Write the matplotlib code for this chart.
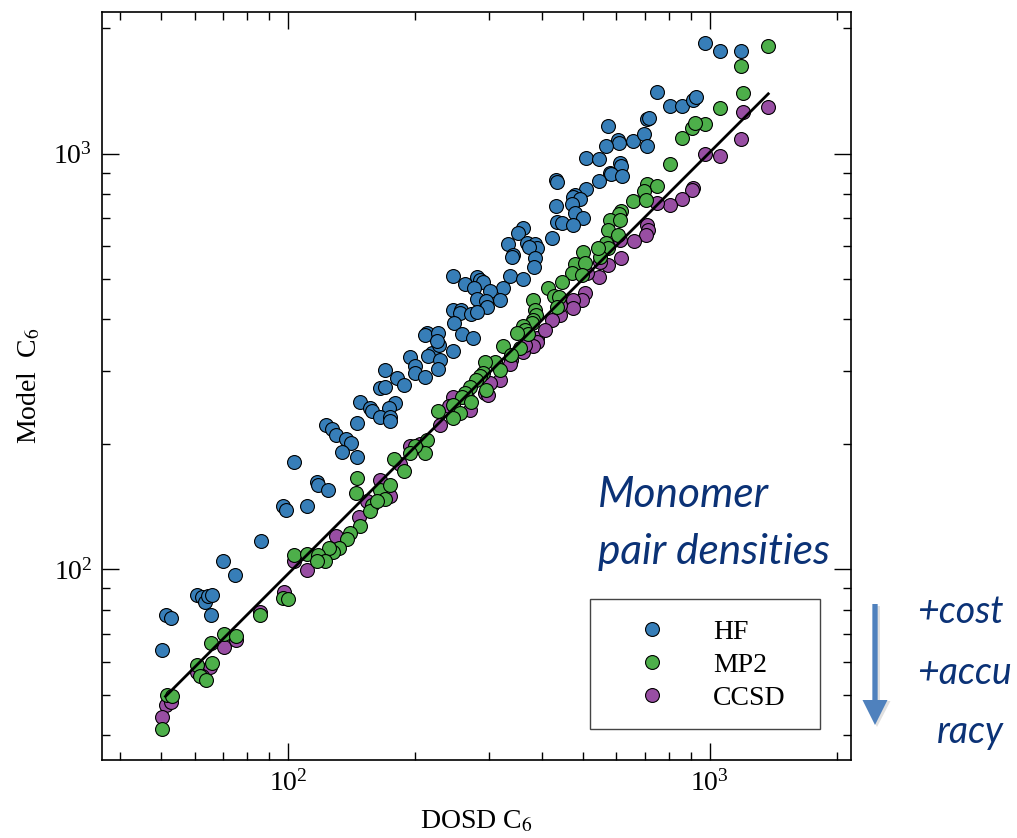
import matplotlib
matplotlib.use("Agg")
import matplotlib.pyplot as plt
from matplotlib.ticker import NullFormatter, LogLocator
from matplotlib.patches import Rectangle, FancyArrow
from matplotlib.lines import Line2D

plt.rcParams['font.family'] = ['Liberation Serif', 'DejaVu Serif']
plt.rcParams['mathtext.fontset'] = 'stix'

# ---------------- data (DOSD C6 vs model C6) ----------------
hf_x = [973, 1056, 1183, 748, 804, 858, 910, 925, 708, 717,
        574, 606, 610, 567, 658, 699, 708, 508, 545, 612, 615, 580, 583, 618, 546,
        431, 435, 508, 479, 474, 492, 432, 470, 479, 499,
        361, 351, 433, 445, 474, 422, 333, 368, 385, 388, 373, 342, 339, 385, 383,
        246, 336, 360, 281, 285, 263, 290, 276, 324, 301, 281, 295, 296, 318,
        246, 257, 255, 272, 280,
        247, 213, 211, 227, 259, 274, 219, 215, 228, 246, 229, 227, 195, 200, 170,
        200, 211, 181, 188, 165, 170, 179, 148, 156, 158, 173, 165, 174, 226,
        123, 127, 130, 137, 141, 134, 146, 146, 174, 103, 117, 118, 124, 97, 99, 111,
        86, 70, 75, 60.7, 62.4, 63.5, 64.6, 65.9, 51.2, 52.8, 65.6, 50.2]
hf_y = [1843, 1766, 1762, 1410, 1303, 1303, 1347, 1367, 1210, 1220,
        1166, 1079, 1063, 1040, 1073, 1116, 1044, 975, 970, 949, 931, 900, 894, 884, 860,
        865, 854, 822, 796, 786, 777, 749, 757, 721, 699,
        662, 644, 686, 680, 674, 626, 607, 609, 607, 593, 597, 571, 565, 560, 535,
        508, 508, 499, 505, 497, 486, 492, 475, 475, 466, 447, 442, 427, 445,
        420, 421, 414, 412, 417,
        391, 371, 366, 370, 369, 360, 331, 326, 347, 336, 318, 303, 325, 309, 301,
        296, 290, 288, 278, 273, 275, 251, 253, 244, 240, 244, 232, 232, 355,
        222, 217, 211, 206, 201, 192, 186, 225, 227, 181, 162, 160, 155, 142, 139, 142,
        117, 105, 97, 86.9, 86, 83.7, 86.2, 87, 77.8, 76.4, 77.8, 64.1]

mp2_x = [1375, 1184, 1200, 1056, 975, 857, 905, 921, 804, 708, 748, 699, 658, 705,
         615, 610, 580, 612, 574, 606, 568, 574, 549, 543, 499, 479, 506, 470, 497,
         445, 414, 426, 439, 381, 385, 387, 433, 381, 378, 361, 364, 371, 348, 324,
         355, 338, 309, 293, 318, 290, 285, 295, 279, 270, 263, 258, 272, 246, 227,
         256, 246, 213, 211, 200, 195, 188, 178, 146, 145, 165, 170, 158, 156, 148,
         174, 140, 162, 138, 132, 128, 125, 103, 111, 118, 122, 117, 97.5, 100, 85.8,
         70.3, 75.2, 65.6, 65.9, 60.7, 61.8, 63.9, 51.7, 53.1, 50.2]
mp2_y = [1816, 1626, 1398, 1287, 1179, 1089, 1151, 1183, 943, 846, 837, 814, 770, 774,
         729, 715, 693, 693, 655, 638, 611, 593, 565, 593, 581, 543, 545, 517, 511,
         492, 475, 455, 452, 445, 421, 409, 427, 398, 391, 385, 377, 369, 370, 344,
         341, 328, 316, 316, 302, 296, 291, 270, 286, 275, 265, 260, 253, 249, 240,
         238, 231, 205, 190, 198, 190, 172, 184, 166, 153, 155, 148, 143, 138, 127,
         160, 122, 146, 118, 112.5, 110, 112.5, 108, 109, 108.5, 104.5, 104.5, 85.3, 84.8, 77.8,
         69.9, 69.2, 66.5, 59.7, 59, 55.3, 54.3, 49.8, 49.7, 41.3]

ccsd_x = [1375, 1200, 1184, 975, 1056, 912, 905, 857, 804, 748, 708, 714, 705, 660,
          615, 574, 546, 506, 497, 474, 474, 441, 422, 388, 388, 381, 361, 338, 318,
          293, 246, 240, 195, 147, 154, 130, 103, 111, 97.7, 85.8, 70.6, 75.2, 65.4,
          60.7, 62.4, 51.2, 52.8, 50.2,
          364, 301, 265, 297, 174, 126, 511, 229, 205, 165, 184, 336, 407, 441, 549, 612, 270]
ccsd_y = [1294, 1259, 1083, 997, 984, 826, 819, 778, 753, 760, 674, 655, 638, 615,
          560, 540, 506, 462, 445, 445, 425, 409, 398, 360, 353, 344, 334, 319, 286,
          265, 260, 246.5, 198, 134, 146, 120, 105, 99.7, 88.4, 79, 65, 67.7, 58.4,
          56.8, 55.3, 47.3, 47.9, 44.2,
          347, 281, 260, 263, 150, 110, 515, 223, 200, 164, 179, 311, 377, 433, 549, 620, 242]

fit_x = [51.2, 1375]
fit_y = [49.5, 1392]

series_labels = ['HF', 'MP2', 'CCSD']
colors = ['#377eb8', '#4daf4a', '#984ea3']

# ---------------- figure ----------------
W, H = 1017, 838
fig = plt.figure(figsize=(W / 100, H / 100), dpi=100)
ax = fig.add_axes([102 / W, 1 - 760 / H, (851 - 102) / W, (760 - 12) / H])

ms = 100
ax.scatter(ccsd_x, ccsd_y, s=ms, c=colors[2], edgecolors='k', linewidths=0.8, zorder=2)
ax.scatter(mp2_x, mp2_y, s=ms, c=colors[1], edgecolors='k', linewidths=0.8, zorder=3)
ax.scatter(hf_x, hf_y, s=ms, c=colors[0], edgecolors='k', linewidths=0.8, zorder=4)
ax.plot(fit_x, fit_y, color='k', lw=2.0, zorder=5)

ax.set_xscale('log')
ax.set_yscale('log')
ax.set_xlim(36.2, 2160)
ax.set_ylim(34.8, 2190)

for a in (ax.xaxis, ax.yaxis):
    a.set_major_locator(LogLocator(base=10))
    a.set_minor_locator(LogLocator(base=10, subs=range(2, 10)))
    a.set_minor_formatter(NullFormatter())
ax.tick_params(which='both', direction='in', top=True, right=True, colors='k')
ax.tick_params(which='major', length=12, width=1.0, labelsize=20, pad=7)
ax.tick_params(which='minor', length=5.5, width=1.0)
for sp in ax.spines.values():
    sp.set_linewidth(1.2)

ax.set_xlabel('DOSD C$_6$', fontsize=20, labelpad=9)
ax.set_ylabel('Model  C$_6$', fontsize=20, labelpad=8)

# legend entries (frame drawn separately)
handles = [Line2D([], [], ls='none', marker='o', ms=10, mfc=c, mec='k', mew=0.8)
           for c in colors]
leg = fig.legend(handles, series_labels, loc='center left',
                 bbox_to_anchor=(620 / W, 1 - 665 / H), bbox_transform=fig.transFigure,
                 frameon=False, borderpad=0, borderaxespad=0, handlelength=2.3,
                 handletextpad=1.04, labelspacing=0.28, fontsize=20, numpoints=1)
fig.patches.append(Rectangle((590 / W, 1 - 729 / H), 230 / W, 130 / H,
                             transform=fig.transFigure, fill=False,
                             edgecolor='#444444', lw=1.0, zorder=6))

# annotations
tcol = '#0b3276'
tf = dict(family=['Lato', 'DejaVu Sans'], style='italic', color=tcol)
fig.text(598 / W, 1 - 507 / H, 'Monomer', va='baseline', ha='left', fontsize=30.5, **tf)
fig.text(598 / W, 1 - 564 / H, 'pair densities', va='baseline', ha='left', fontsize=30.5, **tf)
fig.text(917 / W, 1 - 623 / H, '+cost', va='baseline', ha='left', fontsize=27, **tf)
fig.text(917 / W, 1 - 684 / H, '+accu', va='baseline', ha='left', fontsize=27, **tf)
fig.text(937 / W, 1 - 743 / H, 'racy', va='baseline', ha='left', fontsize=27, **tf)

shadow = FancyArrow(8.77, (H - 606) / 100, 0, -1.21, width=0.06, head_width=0.27,
                    head_length=0.26, length_includes_head=True,
                    transform=fig.dpi_scale_trans, color='#000000', alpha=0.12, lw=0)
fig.patches.append(shadow)
arrow = FancyArrow(8.75, (H - 604) / 100, 0, -1.21, width=0.053, head_width=0.25,
                   head_length=0.25, length_includes_head=True,
                   transform=fig.dpi_scale_trans, color='#4f81bd', lw=0)
fig.patches.append(arrow)

fig.savefig('out.png', dpi=100)
